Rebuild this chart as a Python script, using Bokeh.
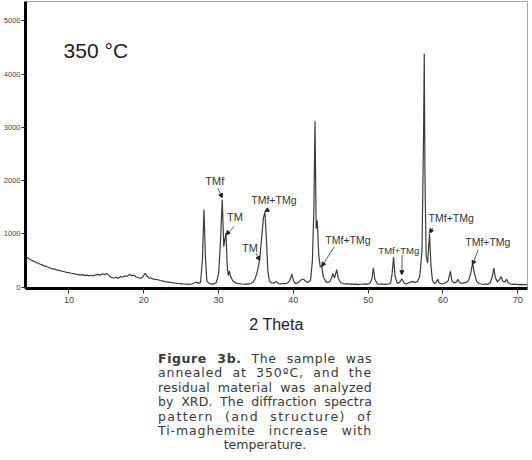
from bokeh.plotting import figure
from bokeh.models import ColumnDataSource, FixedTicker, Arrow, NormalHead, Div
from bokeh.layouts import column
from bokeh.core.properties import value
from bokeh.embed import file_html
from bokeh.resources import INLINE

# ---- data ----
two_theta = [
    4.1, 4.3, 4.6, 4.9, 5.2, 5.5, 5.8, 6.1, 6.4, 6.7, 7.0, 7.3, 7.6, 7.9, 8.2, 8.5, 8.8, 9.1, 9.4, 9.7,
    10.0, 10.3, 10.6, 10.9, 11.2, 11.5, 11.8, 12.1, 12.4, 12.7, 13.0, 13.3, 13.6, 13.9, 14.2, 14.5, 14.8,
    15.1, 15.4, 15.7, 16.0, 16.3, 16.6, 16.9, 17.2, 17.5, 17.8, 18.1, 18.4, 18.7, 19.0, 19.3, 19.6, 19.9,
    20.2, 20.45, 20.7, 21.0, 21.3, 21.6, 21.9, 22.2, 22.5, 22.8, 23.1, 23.4, 23.7, 24.0, 24.3, 24.6, 24.9,
    25.2, 25.5, 25.8, 26.1, 26.4, 26.7, 27.0, 27.3, 27.6, 27.85, 28.05, 28.25, 28.45, 28.8, 29.1, 29.4,
    29.7, 30.0, 30.25, 30.5, 30.7, 30.85, 31.0, 31.15, 31.3, 31.45, 31.65, 31.9, 32.2, 32.5, 32.8, 33.1,
    33.4, 33.7, 34.0, 34.3, 34.6, 34.9, 35.2, 35.5, 35.75, 36.0, 36.2, 36.4, 36.6, 36.8, 37.1, 37.4, 37.7,
    38.0, 38.3, 38.6, 38.9, 39.2, 39.5, 39.8, 40.05, 40.3, 40.6, 40.9, 41.2, 41.45, 41.7, 42.0, 42.3,
    42.55, 42.75, 42.9, 43.05, 43.2, 43.4, 43.6, 43.8, 44.0, 44.3, 44.6, 44.9, 45.1, 45.3, 45.5, 45.8,
    46.0, 46.3, 46.6, 46.9, 47.2, 47.5, 47.8, 48.1, 48.4, 48.7, 49.0, 49.3, 49.6, 49.9, 50.2, 50.5, 50.7,
    50.9, 51.2, 51.5, 51.8, 52.1, 52.4, 52.7, 53.0, 53.2, 53.4, 53.6, 53.9, 54.2, 54.5, 54.8, 55.1, 55.4,
    55.7, 56.0, 56.3, 56.6, 56.9, 57.2, 57.4, 57.5, 57.6, 57.75, 57.95, 58.2, 58.4, 58.6, 58.9, 59.1,
    59.3, 59.5, 59.8, 60.1, 60.4, 60.7, 61.0, 61.2, 61.5, 61.8, 62.0, 62.2, 62.5, 62.8, 63.1, 63.4, 63.7,
    63.95, 64.2, 64.5, 64.8, 65.1, 65.4, 65.7, 66.0, 66.3, 66.6, 66.8, 67.0, 67.3, 67.6, 67.8, 68.0, 68.3,
    68.5, 68.7, 69.0, 69.3, 69.6, 70.0, 70.4, 70.8, 71.3,
]
counts = [
    620, 570, 540, 515, 495, 470, 455, 435, 420, 400, 390, 370, 355, 345, 335, 320, 310, 300, 290, 280,
    275, 262, 255, 245, 240, 228, 236, 218, 226, 212, 225, 214, 232, 240, 226, 252, 236,
    256, 212, 182, 172, 188, 166, 202, 190, 216, 204, 242, 214, 226, 192, 178, 166, 198,
    262, 206, 176, 170, 152, 146, 140, 126, 120, 106, 100, 94, 86, 80, 76, 70, 66,
    62, 56, 58, 52, 60, 78, 98, 72, 90, 520, 1460, 560, 110, 70, 58, 62,
    90, 240, 820, 1640, 760, 900, 1010, 420, 220, 300, 190, 120, 90, 72, 66, 60,
    56, 62, 58, 70, 90, 160, 300, 520, 900, 1300, 1410, 900, 300, 120, 80, 75, 110,
    70, 62, 70, 66, 80, 120, 245, 110, 70, 80, 120, 150, 140, 100, 90, 130,
    500, 1500, 3120, 1100, 1250, 600, 380, 390, 200, 110, 90, 110, 170, 260, 170, 330,
    170, 90, 70, 60, 66, 55, 62, 52, 58, 50, 60, 56, 64, 58, 70, 150, 360,
    150, 66, 56, 62, 54, 58, 56, 80, 250, 565, 200, 70, 90, 160, 80, 60, 80,
    100, 105, 90, 110, 200, 700, 2800, 4380, 2000, 600, 450, 1000, 400, 120, 70, 90,
    150, 80, 60, 70, 90, 120, 300, 120, 80, 100, 150, 90, 70, 80, 90, 120, 250,
    450, 260, 110, 70, 60, 55, 60, 55, 80, 200, 360, 180, 100, 150, 200, 110, 100,
    150, 90, 60, 55, 58, 50, 54, 48, 50,
]
x_ticks = [10, 20, 30, 40, 50, 60, 70]
y_ticks = [0, 1000, 2000, 3000, 4000, 5000]

peak_labels = ["TMf", "TM", "TM", "TMf+TMg", "TMf+TMg", "TMf+TMg", "TMf+TMg", "TMf+TMg"]
peak_theta = [30.5, 31.0, 35.5, 36.2, 43.8, 54.5, 58.2, 63.95]

# annotation placement (not data)
label_theta = [29.5, 32.2, 34.2, 37.4, 47.3, 54.1, 61.1, 66.0]
label_counts = [1990, 1310, 730, 1630, 880, 690, 1290, 850]
label_sizes = ["11px", "11px", "11px", "10.5px", "10.5px", "9.5px", "10.5px", "10.5px"]
arrow_from_theta = [29.9, 32.1, 35.0, 36.7, 45.5, 54.55, 58.65, 64.7]
arrow_from_counts = [1860, 1140, 640, 1460, 765, 610, 1110, 700]
arrow_to_counts = [1680, 985, 500, 1420, 390, 235, 1020, 420]

TEXT_FONT = "Liberation Sans"

p = figure(width=528, height=349, x_range=(4.2, 71.3), y_range=(-24, 5362),
           output_backend="svg", toolbar_location=None,
           min_border_left=25, min_border_right=1, min_border_top=1, min_border_bottom=61)
p.background_fill_color = "white"
p.border_fill_color = "white"
p.outline_line_color = "#a8a8a8"
p.outline_line_width = 1
p.xgrid.grid_line_color = None
p.ygrid.grid_line_color = None

p.line(two_theta, counts, line_color="#3c3c3c", line_width=1.2)

# axes
p.xaxis.ticker = FixedTicker(ticks=x_ticks)
p.yaxis.ticker = FixedTicker(ticks=y_ticks)
for ax in (p.xaxis, p.yaxis):
    ax.axis_line_color = "black"
    ax.axis_line_width = 3
    ax.major_tick_line_color = "#333333"
    ax.major_tick_in = 0
    ax.minor_tick_line_color = None
    ax.major_label_text_color = "#444444"
    ax.major_label_text_font = TEXT_FONT
p.xaxis.major_tick_out = 5
p.yaxis.major_tick_out = 4
p.xaxis.major_label_text_font_size = "9px"
p.yaxis.major_label_text_font_size = "7.5px"
p.xaxis.major_label_standoff = 3
p.yaxis.major_label_standoff = 1
p.xaxis.axis_label = "2 Theta"
p.xaxis.axis_label_text_font = TEXT_FONT
p.xaxis.axis_label_text_font_size = "16px"
p.xaxis.axis_label_text_font_style = "normal"
p.xaxis.axis_label_text_color = "#222222"
p.xaxis.axis_label_standoff = 10

# temperature title inside plot
p.text(x=[13.6], y=[4440], text=["350 °C"], text_font=value(TEXT_FONT),
       text_font_size="21px", text_color="#222222",
       text_align="center", text_baseline="middle")

# peak labels and arrows
lab_src = ColumnDataSource(dict(x=label_theta, y=label_counts, text=peak_labels, size=label_sizes))
p.text(x="x", y="y", text="text", source=lab_src, text_font=value(TEXT_FONT),
       text_font_size="size", text_color="#333333",
       text_align="center", text_baseline="middle")
arr_src = ColumnDataSource(dict(x0=arrow_from_theta, y0=arrow_from_counts,
                                x1=peak_theta, y1=arrow_to_counts))
p.add_layout(Arrow(end=NormalHead(size=4, fill_color="#222222", line_color="#222222"),
                   x_start="x0", y_start="y0", x_end="x1", y_end="y1",
                   line_color="#333333", line_width=0.8, source=arr_src))

cap_lines = [
    "<b>Figure 3b.</b> The sample was",
    "annealed at 350ºC, and the",
    "residual material was analyzed",
    "by XRD. The diffraction spectra",
    "pattern (and structure) of",
    "Ti-maghemite increase with",
]
cap_spacing = ["0.6px", "0.9px", "0.3px", "0.15px", "1.4px", "0.9px"]
html = ('<div style="position:relative;top:-2px;width:214px;margin-left:153px;'
        'font-family:\'DejaVu Sans\',Verdana,sans-serif;'
        'font-size:12.5px;line-height:14.4px;color:#3a3a3a;">')
for ln, ls in zip(cap_lines, cap_spacing):
    html += ('<div style="text-align:justify;text-align-last:justify;white-space:nowrap;'
             'letter-spacing:' + ls + ';">' + ln + '</div>')
html += '<div style="text-align:center;">temperature.</div></div>'
caption = Div(text=html, width=516, height=100)

layout = column(p, caption, spacing=0)
open("out.html", "w").write(file_html(layout, INLINE))
